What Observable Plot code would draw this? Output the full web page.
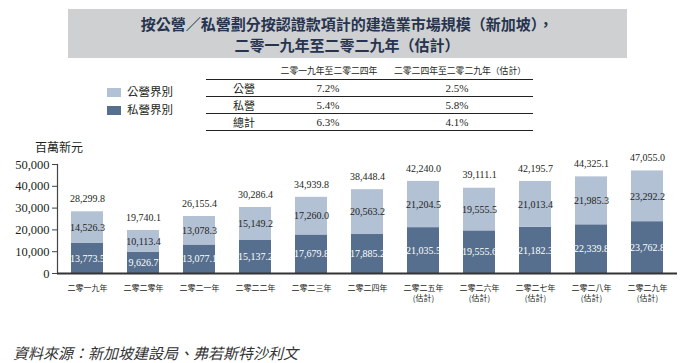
<!DOCTYPE html>
<html><head><meta charset="utf-8">
<script src="https://cdn.jsdelivr.net/npm/d3@7"></script>
<script src="https://cdn.jsdelivr.net/npm/@observablehq/plot@0.6"></script>
<style>
body{margin:0;background:#fff;}
#root{position:relative;width:686px;height:363px;overflow:hidden;font-family:"Liberation Serif","Noto Sans CJK TC",serif;color:#231f20;}
.abs{position:absolute;white-space:nowrap;line-height:1;}
#chart{position:absolute;left:0;top:140px;}
#chart svg{overflow:visible;}
</style></head><body><div id="root"></div>
<script>
// ---- data ----
const titleLines = ["按公營／私營劃分按認證款項計的建造業市場規模（新加坡），", "二零一九年至二零二九年（估計）"];
const seriesNames = ["公營界別", "私營界別"];
const years = ["二零一九年","二零二零年","二零二一年","二零二二年","二零二三年","二零二四年","二零二五年\n(估計)","二零二六年\n(估計)","二零二七年\n(估計)","二零二八年\n(估計)","二零二九年\n(估計)"];
const publicVals = [14526.3, 10113.4, 13078.3, 15149.2, 17260.0, 20563.2, 21204.5, 19555.5, 21013.4, 21985.3, 23292.2];
const privateVals = [13773.5, 9626.7, 13077.1, 15137.2, 17679.8, 17885.2, 21035.5, 19555.6, 21182.3, 22339.8, 23762.8];
const totals = [28299.8, 19740.1, 26155.4, 30286.4, 34939.8, 38448.4, 42240.0, 39111.1, 42195.7, 44325.1, 47055.0];
const yTicks = [0, 10000, 20000, 30000, 40000, 50000];
const yUnit = "百萬新元";
const tableHeaders = ["二零一九年至二零二四年", "二零二四年至二零二九年（估計）"];
const tableRowLabels = ["公營", "私營", "總計"];
const cagr1 = ["7.2%", "5.4%", "6.3%"];
const cagr2 = ["2.5%", "5.8%", "4.1%"];
const sourceText = "資料來源：新加坡建設局、弗若斯特沙利文";

const DARK = "#566f8e", LIGHT = "#b3c1d5", INK = "#231f20", NAVY = "#27344f";
const CJK = "'Noto Sans CJK TC', sans-serif";
const SERIF = "'Liberation Serif', 'Noto Sans CJK TC', serif";

const root = document.getElementById("root");
function place(text, x, y, o = {}) {
  const el = document.createElement("div");
  el.className = "abs";
  el.textContent = text;
  const tx = o.anchor === "middle" ? "-50%" : o.anchor === "end" ? "-100%" : "0";
  el.style.left = x + "px"; el.style.top = y + "px";
  el.style.transform = `translate(${tx},-50%)`;
  el.style.fontSize = (o.size || 12) + "px";
  el.style.fontFamily = o.font || SERIF;
  if (o.weight) el.style.fontWeight = o.weight;
  if (o.color) el.style.color = o.color;
  if (o.italic) el.style.fontStyle = "italic";
  if (o.ls != null) el.style.letterSpacing = o.ls + "px";
  root.appendChild(el);
  return el;
}
function box(x, y, w, h, bg) {
  const el = document.createElement("div");
  el.style.cssText = `position:absolute;left:${x}px;top:${y}px;width:${w}px;height:${h}px;background:${bg};`;
  root.appendChild(el);
}

// title box
box(68, 9, 559, 49, "#cfd0d2");
place(titleLines[0], 347, 23, {anchor: "middle", size: 15, weight: 700, font: CJK, color: NAVY});
place(titleLines[1], 347, 44, {anchor: "middle", size: 15, weight: 700, font: CJK, color: NAVY});

// legend
box(107, 88, 14, 9, LIGHT);
place(seriesNames[0], 127, 92, {size: 11.5, font: CJK});
box(107, 106, 14, 9, DARK);
place(seriesNames[1], 127, 110, {size: 11.5, font: CJK});

// table
[79, 96, 113, 130].forEach(y => box(206, y, 327, 1.2, "#222"));
place(tableHeaders[0], 329, 71, {anchor: "middle", size: 8.8, font: CJK});
place(tableHeaders[1], 460, 71, {anchor: "middle", size: 8.8, font: CJK});
tableRowLabels.forEach((lab, i) => {
  const y = 88 + i * 17;
  place(lab, 244, y, {anchor: "middle", size: 11, font: CJK});
  place(cagr1[i], 328, y, {anchor: "middle", size: 11});
  place(cagr2[i], 457, y, {anchor: "middle", size: 11});
});

// y unit & source
place(yUnit, 35, 147, {size: 12, font: CJK});
place(sourceText, 13, 352, {size: 15, font: CJK, italic: true, color: "#333"});

// ---- chart ----
const rows = [];
years.forEach((yr, i) => {
  rows.push({year: yr, type: seriesNames[1], value: privateVals[i]});
  rows.push({year: yr, type: seriesNames[0], value: publicVals[i]});
});
const bars = years.map((yr, i) => ({year: yr, pub: publicVals[i], priv: privateVals[i], total: totals[i]}));
const fmt = d3.format(",.1f");

const chart = Plot.plot({
  width: 686, height: 175,
  marginTop: 24, marginBottom: 42, marginLeft: 57, marginRight: 9,
  style: {fontFamily: SERIF, color: INK, background: "transparent"},
  x: {domain: years, paddingInner: 0.43, paddingOuter: 0.25, label: null},
  y: {domain: [0, 50000], label: null},
  color: {domain: [seriesNames[1], seriesNames[0]], range: [DARK, LIGHT]},
  marks: [
    Plot.barY(rows, {x: "year", y: "value", fill: "type"}),
    Plot.frame({anchor: "left", stroke: "#444", strokeWidth: 1.2}),
    Plot.ruleY([0], {stroke: "#333", strokeWidth: 1.8}),
    Plot.axisY({ticks: yTicks, tickFormat: d3.format(","), tickSize: 5, tickPadding: 3, fontSize: 12.5, stroke: "#444", label: null}),
    Plot.axisX({tickSize: 0, tickPadding: 10, fontSize: 8, lineHeight: 1.25, lineAnchor: "top", fontFamily: CJK, label: null}),
    Plot.text(bars, {x: "year", y: d => d.priv / 2, text: d => fmt(d.priv), fill: "#fff", fontSize: 10, fontFamily: SERIF}),
    Plot.text(bars, {x: "year", y: d => d.priv + d.pub / 2, text: d => fmt(d.pub), fill: INK, fontSize: 10, fontFamily: SERIF}),
    Plot.text(bars, {x: "year", y: "total", text: d => fmt(d.total), fill: INK, fontSize: 10, fontFamily: SERIF, dy: -13})
  ]
});
const holder = document.createElement("div");
holder.id = "chart";
holder.appendChild(chart);
root.appendChild(holder);
</script>
</body></html>
